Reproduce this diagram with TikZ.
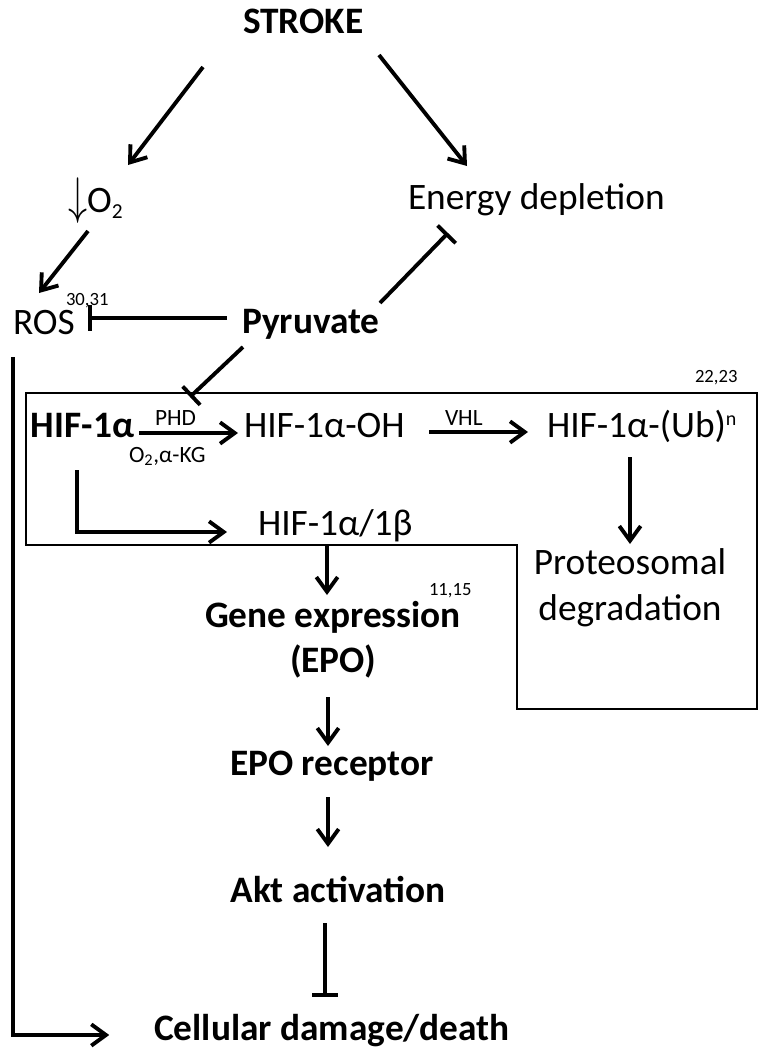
\documentclass[tikz,border=0pt]{standalone}
\usepackage{fontspec}
\usepackage{graphicx}
\setmainfont{Carlito}
\usetikzlibrary{arrows.meta}
\newcommand{\mysub}[1]{{\fontsize{16}{18}\selectfont\raisebox{-4.5pt}{#1}}}
\newcommand{\mysup}[1]{{\fontsize{15}{17}\selectfont\raisebox{9pt}{#1}}}
\tikzset{
  lab/.style={inner sep=0pt, outer sep=0pt, anchor=base west, font=\fontsize{28}{34}\selectfont},
  blab/.style={lab, font=\fontsize{28}{34}\selectfont\bfseries},
  cblab/.style={blab, anchor=base},
  clab/.style={lab, anchor=base},
  small/.style={lab, font=\fontsize{17.5}{20}\selectfont},
  ref/.style={lab, font=\fontsize{14}{16}\selectfont},
  arr/.style={line width=2.9pt, -{Straight Barb[length=11pt,width=16pt]}},
  inh/.style={line width=2.9pt, -{Bar[width=19pt]}},
  boxline/.style={line width=1.1pt},
}
\begin{document}
\begin{tikzpicture}[x=0.75pt, y=-0.75pt]
\useasboundingbox (0,0) rectangle (768,1050);
% box
\draw[boxline] (26,393) -- (757,393) -- (757,709) -- (517,709) -- (517,545) -- (26,545) -- cycle;
% nodes
\node[blab] (stroke) at (243,33) {STROKE};
\node[lab] (o2) at (68,212) {\raisebox{-1pt}{\scalebox{1.15}[1.55]{$\downarrow$}}O\mysub{2}};
\node[lab] (energy) at (408,209) {Energy depletion};
\node[lab] (ros) at (13,334) {ROS};
\node[ref] (r3031) at (66,305) {30,31};
\node[blab] (pyr) at (242,333) {Pyruvate};
\node[blab] (hif) at (31,437) {HIF-1α};
\node[small] (phd) at (155,425) {PHD};
\node[small] (kg) at (129,462) {O\textsubscript{2},α-KG};
\node[lab] (hifoh) at (244,437) {HIF-1α-OH};
\node[small] (vhl) at (445,425) {VHL};
\node[lab] (hifub) at (547,437) {HIF-1α-(Ub)\mysup{n}};
\node[ref] (r2223) at (695,382) {22,23};
\node[lab] (hifb) at (258,535) {HIF-1α/1β};
\node[clab] (prot) at (630,574) {Proteosomal};
\node[clab] (degr) at (630,620) {degradation};
\node[ref] (r1115) at (429,595) {11,15};
\node[cblab] (gene) at (333,627) {Gene expression};
\node[cblab] (epo) at (333,672) {(EPO)};
\node[cblab] (epor) at (332,775) {EPO receptor};
\node[cblab] (akt) at (338,902) {Akt activation};
\node[cblab] (cell) at (332,1040) {Cellular damage/death};
% connectors
\draw[arr] ([shift={(-40,34)}]stroke.base west) -- ([shift={(60,-47)}]o2.base west);
\draw[arr] ([shift={(136,22)}]stroke.base west) -- ([shift={(59,-43)}]energy.base west);
\draw[arr] ([shift={(20,19)}]o2.base west) -- ([shift={(26,-41)}]ros.base west);
\draw[inh] ([shift={(138,-30)}]pyr.base west) -- ([shift={(40,24)}]energy.base west);
\draw[inh] ([shift={(-15,-15)}]pyr.base west) -- ([shift={(75,-16)}]ros.base west);
\draw[inh] ([shift={(1,14)}]pyr.base west) -- ([shift={(35,-28)}]phd.base west);
\draw[arr] ([shift={(108,-4)}]hif.base west) -- ([shift={(-6,-4)}]hifoh.base west);
\draw[arr] ([shift={(185,-5)}]hifoh.base west) -- ([shift={(-19,-5)}]hifub.base west);
\draw[arr] ([shift={(83,20)}]hifub.base west) -- ([shift={(0,-30)}]prot.base);
\draw[arr] ([shift={(46,33)}]hif.base west) |- ([shift={(-31,-3)}]hifb.base west);
\draw[arr] ([shift={(69,10)}]hifb.base west) -- ([shift={(-6,-32)}]gene.base);
\draw[arr] ([shift={(-5,25)}]epo.base) -- ([shift={(-4,-29)}]epor.base);
\draw[arr] ([shift={(-4,22)}]epor.base) -- ([shift={(-10,-55)}]akt.base);
\draw[inh] ([shift={(-13,21)}]akt.base) -- ([shift={(-7,-43)}]cell.base);
\draw[arr] ([shift={(0,23)}]ros.base west) |- ([shift={(-45,-5)}]cell.base west);
\end{tikzpicture}
\end{document}
